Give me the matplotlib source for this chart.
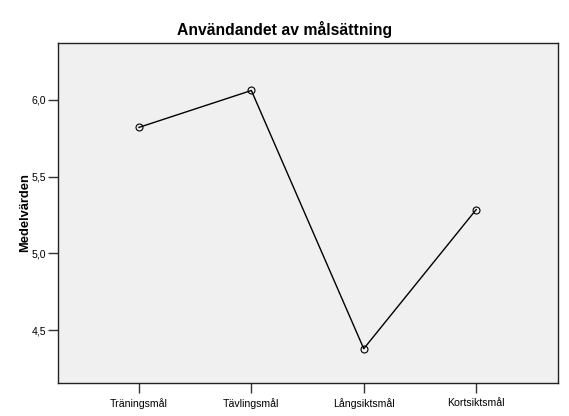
import matplotlib
matplotlib.use("Agg")
import matplotlib.pyplot as plt
from matplotlib.ticker import FuncFormatter

plt.rcParams['font.family'] = ['Liberation Sans', 'DejaVu Sans']

categories = ['Träningsmål', 'Tävlingsmål', 'Långsiktsmål', 'Kortsiktsmål']
means = [5.82, 6.06, 4.38, 5.285]
yticks = [4.5, 5.0, 5.5, 6.0]

fig = plt.figure(figsize=(5.69, 4.16), dpi=100)
ax = fig.add_axes([0.102, 0.079, 0.879, 0.818])
ax.set_facecolor('#f0f0f0')

x = range(len(categories))
ax.plot(x, means, color='black', linewidth=1.0, marker='o', markersize=5,
        markerfacecolor='none', markeredgecolor='black', markeredgewidth=0.8)

ax.set_xlim(-0.72, 3.73)
ax.set_ylim(4.156, 6.37)
ax.set_xticks(list(x))
ax.set_xticklabels(categories)
ax.set_yticks(yticks)
ax.yaxis.set_major_formatter(FuncFormatter(lambda v, p: f"{v:.1f}".replace('.', ',')))
ax.tick_params(axis='both', labelsize=7.6, width=1, direction='out', color='#333333')
ax.tick_params(axis='x', length=7, pad=4)
ax.tick_params(axis='y', length=7, pad=1.5)
for s in ax.spines.values():
    s.set_linewidth(1.0)
    s.set_color('#222222')

ax.set_ylabel('Medelvärden', fontsize=9.3, fontweight='bold', va='center')
ax.yaxis.set_label_coords(-0.066, 0.5)
fig.text(0.5, 1 - 35 / 416, 'Användandet av målsättning', fontsize=11.3,
         fontweight='bold', ha='center', va='baseline')

fig.savefig('out.png', dpi=100, facecolor='white')
